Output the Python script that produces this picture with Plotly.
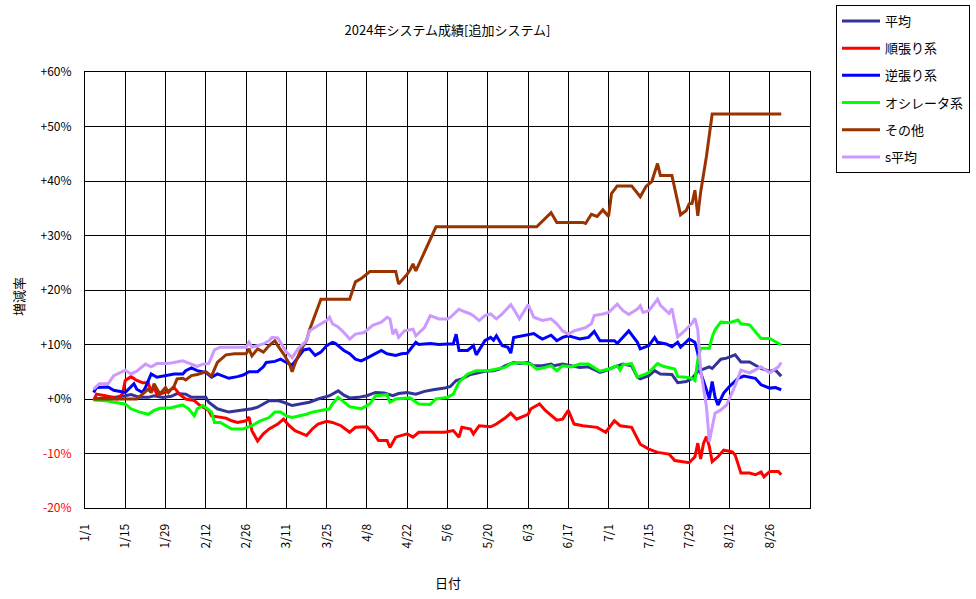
import pandas as pd
import plotly.graph_objects as go

YEAR = "2024"
TITLE = "2024年システム成績[追加システム]"
X_TITLE = "日付"
Y_TITLE = "増減率"

series_names = ["平均", "順張り系", "逆張り系", "オシレータ系", "その他", "s平均"]
series_colors = ["#333399", "#FF0000", "#0000FF", "#00FF00", "#993300", "#CC99FF"]

x_tick_labels = ["1/1", "1/15", "1/29", "2/12", "2/26", "3/11", "3/25", "4/8", "4/22",
                 "5/6", "5/20", "6/3", "6/17", "7/1", "7/15", "7/29", "8/12", "8/26"]
x_range = ["1/1", "9/9"]
y_tick_vals = [-20, -10, 0, 10, 20, 30, 40, 50, 60]
y_tick_labels = ["-20%", "-10%", "+0%", "+10%", "+20%", "+30%", "+40%", "+50%", "+60%"]

# 平均
avg_dates = ["1/4", "1/8", "1/11", "1/15", "1/17", "1/20", "1/23", "1/25", "1/28", "1/31",
             "2/2", "2/5", "2/7", "2/10", "2/12", "2/13", "2/15", "2/16", "2/20", "2/24",
             "2/28", "3/1", "3/5", "3/8", "3/10", "3/13", "3/16", "3/19", "3/22", "3/24",
             "3/26", "3/29", "3/31", "4/2", "4/5", "4/8", "4/11", "4/14", "4/17", "4/19",
             "4/22", "4/25", "4/28", "5/1", "5/5", "5/7", "5/9", "5/11", "5/14", "5/16",
             "5/19", "5/22", "5/24", "5/26", "5/29", "5/31", "6/3", "6/5", "6/8", "6/11",
             "6/12", "6/15", "6/18", "6/21", "6/24", "6/28", "6/30", "7/3", "7/6", "7/9",
             "7/11", "7/12", "7/15", "7/17", "7/19", "7/23", "7/25", "7/28", "7/30", "8/1",
             "8/2", "8/5", "8/6", "8/9", "8/11", "8/14", "8/16", "8/19", "8/23", "8/26",
             "8/28", "8/30"]
avg_vals = [0, 0.1, 0.3, 0.6, 0.8, 0.3, 0.3, 0.6, 0.3, 0.5,
            1.0, 0.9, 0.3, 0.3, 0.3, -0.6, -1.5, -1.8, -2.4, -2.1,
            -1.8, -1.5, -0.3, -0.3, -0.6, -1.2, -0.9, -0.6, 0, 0.3,
            0.6, 1.5, 0.7, 0.2, 0.3, 0.6, 1.2, 1.1, 0.6, 1.0,
            1.2, 0.9, 1.4, 1.7, 2.0, 2.3, 3.4, 3.7, 4.5, 4.7,
            5.1, 5.2, 5.5, 6.1, 6.7, 6.5, 6.7, 6.1, 6.1, 6.4,
            6.1, 6.4, 6.1, 5.8, 5.9, 4.9, 5.2, 5.9, 6.4, 6.1,
            4.0, 3.7, 4.3, 5.2, 4.6, 4.5, 3.0, 3.2, 3.8, 5.0,
            5.3, 5.9, 5.6, 7.3, 7.5, 8.1, 6.8, 6.8, 5.6, 5.1,
            5.3, 4.2]

# 順張り系
trend_dates = ["1/4", "1/5", "1/8", "1/11", "1/12", "1/14", "1/15", "1/17", "1/19", "1/21",
               "1/23", "1/24", "1/25", "1/26", "1/29", "1/31", "2/1", "2/3", "2/5", "2/8",
               "2/10", "2/13", "2/14", "2/19", "2/21", "2/23", "2/26", "2/27", "2/28", "3/1",
               "3/3", "3/5", "3/8", "3/10", "3/12", "3/14", "3/18", "3/20", "3/22", "3/25",
               "3/27", "3/30", "4/2", "4/4", "4/8", "4/10", "4/12", "4/15", "4/16", "4/18",
               "4/22", "4/24", "4/26", "4/30", "5/5", "5/8", "5/10", "5/11", "5/14", "5/15",
               "5/17", "5/21", "5/23", "5/26", "5/28", "5/30", "6/3", "6/4", "6/7", "6/9",
               "6/13", "6/15", "6/17", "6/19", "6/22", "6/27", "6/30", "7/3", "7/5", "7/9",
               "7/12", "7/15", "7/18", "7/22", "7/24", "7/29", "7/31", "8/1", "8/2", "8/3",
               "8/4", "8/5", "8/6", "8/8", "8/10", "8/13", "8/14", "8/16", "8/19", "8/21",
               "8/23", "8/24", "8/26", "8/29", "8/30"]
trend_vals = [-0.3, 0.9, 0.6, 0.3, 0, 0.9, 3.4, 4.1, 3.4, 3.0,
              3.0, 1.2, 2.2, 0.8, 1.2, 1.8, 2.1, 0.8, 0, -0.3,
              -1.2, -2.1, -3.1, -3.5, -4.0, -4.3, -4.0, -3.3, -5.8, -7.7,
              -6.4, -5.5, -4.6, -3.7, -4.9, -5.8, -6.7, -5.5, -4.6, -4.1,
              -4.3, -4.9, -6.1, -5.2, -5.1, -6.1, -7.6, -7.6, -8.9, -7.0,
              -6.4, -7.0, -6.1, -6.1, -6.1, -5.8, -7.0, -5.2, -5.5, -6.4,
              -4.9, -5.1, -4.6, -3.5, -2.6, -3.7, -2.8, -1.8, -0.9, -2.1,
              -3.9, -3.7, -2.1, -4.6, -4.9, -5.2, -6.1, -4.0, -4.9, -5.2,
              -8.3, -9.2, -9.8, -10.1, -11.3, -11.7, -10.6, -8.1, -11.0, -8.1,
              -6.9, -8.7, -11.5, -10.6, -9.4, -9.7, -10.3, -13.6, -13.6, -13.9,
              -13.4, -14.3, -13.3, -13.3, -13.9]

# 逆張り系
contra_dates = ["1/4", "1/5", "1/9", "1/11", "1/15", "1/16", "1/18", "1/19", "1/21", "1/22",
                "1/24", "1/26", "1/29", "2/1", "2/4", "2/5", "2/7", "2/9", "2/12", "2/14",
                "2/16", "2/20", "2/23", "2/25", "2/27", "3/1", "3/3", "3/4", "3/7", "3/9",
                "3/11", "3/13", "3/15", "3/17", "3/19", "3/21", "3/23", "3/25", "3/27", "3/28",
                "3/31", "4/2", "4/4", "4/6", "4/8", "4/10", "4/13", "4/15", "4/18", "4/20",
                "4/22", "4/25", "4/26", "4/30", "5/3", "5/6", "5/8", "5/9", "5/10", "5/13",
                "5/15", "5/16", "5/19", "5/21", "5/22", "5/23", "5/25", "5/27", "5/28", "5/29",
                "6/1", "6/4", "6/5", "6/7", "6/8", "6/11", "6/13", "6/15", "6/17", "6/19",
                "6/21", "6/24", "6/26", "6/28", "7/3", "7/4", "7/7", "7/8", "7/11", "7/12",
                "7/15", "7/17", "7/18", "7/21", "7/23", "7/25", "7/26", "7/29", "7/31", "8/1",
                "8/2", "8/4", "8/5", "8/6", "8/7", "8/8", "8/10", "8/12", "8/15", "8/17",
                "8/19", "8/21", "8/23", "8/26", "8/28", "8/30"]
contra_vals = [1.2, 2.1, 2.2, 1.6, 1.2, 1.8, 2.8, 1.8, 1.2, 2.1,
               4.6, 4.0, 4.3, 4.6, 4.6, 5.2, 5.7, 5.2, 4.9, 4.0,
               4.6, 3.8, 4.1, 4.4, 5.0, 5.0, 5.9, 6.7, 6.9, 7.3,
               6.7, 6.2, 7.6, 9.0, 9.2, 8.0, 8.6, 9.8, 10.4, 10.2,
               8.9, 8.3, 7.3, 7.0, 7.5, 8.0, 8.9, 8.3, 8.0, 8.3,
               8.4, 10.4, 10.0, 10.2, 10.0, 10.1, 10.1, 11.9, 8.9, 8.9,
               9.8, 8.1, 10.7, 11.3, 10.8, 11.6, 9.8, 9.5, 8.4, 11.3,
               11.6, 11.9, 12.0, 11.3, 11.0, 11.7, 10.7, 11.3, 11.6, 11.3,
               11.0, 11.3, 12.4, 10.7, 10.7, 10.2, 11.9, 12.5, 10.4, 9.2,
               9.8, 11.3, 10.4, 10.1, 9.6, 10.4, 9.5, 11.0, 10.4, 8.4,
               4.8, 1.7, 0.1, 3.2, 0.3, -1.1, 1.1, 2.3, 3.8, 4.2,
               4.0, 3.8, 2.6, 2.0, 2.1, 1.7]

# オシレータ系
osc_dates = ["1/4", "1/8", "1/11", "1/15", "1/17", "1/20", "1/23", "1/25", "1/27", "1/31",
             "2/3", "2/4", "2/6", "2/8", "2/9", "2/11", "2/14", "2/15", "2/17", "2/19",
             "2/21", "2/25", "2/28", "3/2", "3/5", "3/7", "3/9", "3/11", "3/13", "3/18",
             "3/20", "3/23", "3/26", "3/27", "3/29", "4/2", "4/6", "4/9", "4/11", "4/15",
             "4/16", "4/18", "4/23", "4/26", "4/30", "5/2", "5/6", "5/8", "5/10", "5/13",
             "5/16", "5/20", "5/23", "5/26", "5/28", "5/31", "6/4", "6/6", "6/9", "6/11",
             "6/13", "6/15", "6/18", "6/21", "6/24", "6/28", "7/1", "7/4", "7/5", "7/6",
             "7/9", "7/11", "7/14", "7/15", "7/18", "7/20", "7/24", "7/25", "7/28", "7/30",
             "7/31", "8/1", "8/2", "8/5", "8/6", "8/7", "8/9", "8/12", "8/15", "8/16",
             "8/19", "8/21", "8/23", "8/26", "8/28", "8/30"]
osc_vals = [-0.2, -0.3, -0.6, -0.9, -1.8, -2.4, -2.8, -2.1, -1.7, -1.6,
            -1.2, -1.1, -1.8, -3.1, -1.8, -1.2, -2.4, -4.3, -4.3, -4.9,
            -5.5, -5.5, -4.9, -4.0, -3.4, -2.4, -2.4, -3.1, -3.4, -2.8,
            -2.4, -2.1, -1.8, -0.9, 0.3, -1.4, -1.8, -0.9, 0.6, 0.8,
            -0.6, 0, 0.2, -0.9, -1.0, 0, 0.3, 0.9, 3.1, 4.6,
            5.2, 5.2, 5.5, 5.8, 6.5, 6.7, 6.4, 5.5, 5.8, 6.1,
            5.2, 6.1, 5.9, 6.4, 6.4, 5.1, 5.5, 6.1, 5.3, 6.3,
            6.5, 4.0, 4.6, 4.9, 6.5, 6.0, 5.5, 4.1, 4.0, 3.8,
            3.4, 7.2, 9.3, 9.3, 11.4, 12.7, 14.1, 14.0, 14.5, 13.8,
            13.6, 12.4, 11.1, 11.1, 10.5, 9.9]

# その他
other_dates = ["1/4", "1/19", "1/21", "1/23", "1/24", "1/25", "1/27", "1/29", "1/30", "2/1",
               "2/2", "2/4", "2/5", "2/7", "2/9", "2/12", "2/14", "2/16", "2/19", "2/22",
               "2/26", "2/27", "2/28", "3/1", "3/3", "3/5", "3/7", "3/8", "3/10", "3/12",
               "3/13", "3/14", "3/16", "3/18", "3/19", "3/21", "3/23", "4/2", "4/4", "4/6",
               "4/9", "4/18", "4/19", "4/22", "4/23", "4/24", "4/25", "5/2", "6/6", "6/11",
               "6/13", "6/22", "6/23", "6/25", "6/27", "6/29", "7/1", "7/2", "7/3", "7/4",
               "7/9", "7/12", "7/14", "7/16", "7/18", "7/19", "7/23", "7/26", "7/28", "7/29",
               "7/30", "7/31", "8/1", "8/2", "8/4", "8/6", "8/30"]
other_vals = [0, 0, 0.9, 1.8, 1.2, 2.8, 0.9, 2.1, 1.2, 2.4,
              3.7, 3.8, 3.5, 4.3, 4.5, 5.0, 4.2, 6.7, 8.1, 8.3,
              8.3, 9.2, 7.9, 9.2, 8.6, 9.8, 10.7, 9.8, 8.3, 6.5,
              5.0, 6.5, 9.0, 10.7, 12.6, 15.6, 18.3, 18.3, 21.5, 22.1,
              23.4, 23.4, 21.1, 22.9, 23.7, 24.8, 23.5, 31.6, 31.6, 34.2,
              32.4, 32.4, 32.2, 33.9, 33.5, 34.7, 33.5, 37.7, 38.3, 39.1,
              39.1, 37.1, 39.0, 39.9, 43.2, 41.0, 41.0, 33.8, 34.6, 35.8,
              35.9, 38.3, 33.6, 38.0, 44.5, 52.3, 52.3]

# s平均
savg_dates = ["1/4", "1/6", "1/9", "1/11", "1/15", "1/17", "1/19", "1/22", "1/24", "1/26",
              "1/29", "1/31", "2/4", "2/7", "2/9", "2/11", "2/13", "2/15", "2/17", "2/26",
              "2/27", "2/28", "3/3", "3/5", "3/6", "3/8", "3/11", "3/13", "3/15", "3/18",
              "3/19", "3/22", "3/25", "3/26", "3/27", "3/29", "3/31", "4/2", "4/4", "4/7",
              "4/10", "4/13", "4/15", "4/16", "4/17", "4/18", "4/19", "4/21", "4/24", "4/25",
              "4/28", "4/30", "5/3", "5/6", "5/7", "5/10", "5/11", "5/14", "5/15", "5/17",
              "5/19", "5/21", "5/23", "5/25", "5/28", "5/29", "5/31", "6/3", "6/5", "6/8",
              "6/11", "6/13", "6/15", "6/17", "6/19", "6/21", "6/23", "6/25", "6/26", "6/29",
              "7/1", "7/4", "7/6", "7/8", "7/11", "7/12", "7/13", "7/15", "7/17", "7/18",
              "7/19", "7/22", "7/23", "7/25", "7/27", "7/30", "7/31", "8/1", "8/2", "8/4",
              "8/5", "8/7", "8/9", "8/11", "8/14", "8/16", "8/19", "8/21", "8/23", "8/26",
              "8/28", "8/29", "8/30"]
savg_vals = [1.8, 2.8, 2.8, 4.3, 5.3, 4.6, 5.1, 6.4, 5.9, 6.5,
             6.5, 6.6, 7.0, 6.4, 6.0, 6.4, 6.5, 9.0, 9.5, 9.5,
             10.4, 9.5, 10.1, 10.7, 11.3, 11.2, 8.6, 7.6, 9.2, 10.7,
             12.5, 13.5, 14.4, 15.0, 13.8, 13.2, 12.2, 11.0, 11.9, 12.2,
             13.5, 14.1, 15.0, 14.7, 11.9, 12.8, 11.3, 12.5, 12.8, 11.6,
             13.1, 15.3, 14.7, 14.7, 15.0, 16.5, 16.2, 15.6, 15.3, 14.4,
             15.3, 15.6, 14.7, 15.6, 17.3, 16.5, 14.7, 17.3, 15.0, 14.4,
             14.7, 13.8, 12.5, 11.9, 12.5, 12.8, 13.1, 13.8, 15.3, 15.6,
             15.9, 17.4, 16.2, 15.5, 16.5, 17.1, 15.9, 16.2, 17.7, 18.3,
             17.2, 15.7, 16.6, 11.4, 12.3, 13.9, 14.8, 12.7, 5.3, -1.4,
             -7.8, -2.6, -2.0, -1.1, 2.5, 5.3, 4.8, 5.3, 5.9, 4.8,
             5.6, 5.9, 6.7]

series_dates = [avg_dates, trend_dates, contra_dates, osc_dates, other_dates, savg_dates]
series_vals = [avg_vals, trend_vals, contra_vals, osc_vals, other_vals, savg_vals]
for d, v in zip(series_dates, series_vals):
    assert len(d) == len(v), (len(d), len(v), d[0])


def to_dt(md_list):
    return pd.to_datetime([f"{YEAR}/{s}" for s in md_list], format="%Y/%m/%d")


FONT = "Noto Sans CJK JP"

fig = go.Figure()
for name, color, d, v in zip(series_names, series_colors, series_dates, series_vals):
    fig.add_trace(go.Scatter(
        x=to_dt(d), y=v, mode="lines", name=name, legendgroup=name,
        line=dict(color=color, width=3),
    ))

y_ticktext = [f'<span style="color:#FF0000">{t}</span>' if v < 0 else t
              for v, t in zip(y_tick_vals, y_tick_labels)]

fig.update_layout(
    width=976, height=599,
    margin=dict(l=85, r=166, t=72, b=91, autoexpand=False),
    paper_bgcolor="white", plot_bgcolor="white",
    font=dict(family=FONT, size=12, color="black"),
    title=dict(text=TITLE, x=0.5, xref="paper", xanchor="center",
               y=1 - 30 / 599, yref="container", yanchor="middle",
               font=dict(family=FONT, size=13, color="black")),
    showlegend=True,
    legend=dict(x=(836 - 85) / 725, xanchor="left", y=1 + (72 - 5) / 436,
                yanchor="top", bordercolor="black", borderwidth=1, bgcolor="white",
                font=dict(family=FONT, size=13, color="black"),
                tracegroupgap=7.3, traceorder="grouped", itemwidth=38),
    xaxis=dict(type="date", range=list(to_dt(x_range)),
               tickmode="array", tickvals=to_dt(x_tick_labels), ticktext=x_tick_labels,
               tickangle=-90, showgrid=True, gridcolor="black", gridwidth=1,
               showline=True, linecolor="black", linewidth=1, mirror=True,
               ticks="", zeroline=False, ticklabelstandoff=10,
               tickfont=dict(family=FONT, size=12, color="black")),
    yaxis=dict(range=[-20, 60], tickmode="array", tickvals=y_tick_vals, ticktext=y_ticktext,
               showgrid=True, gridcolor="black", gridwidth=1,
               showline=True, linecolor="black", linewidth=1, mirror=True,
               ticks="", zeroline=False, ticklabelstandoff=10,
               tickfont=dict(family=FONT, size=12, color="black")),
    annotations=[
        dict(text=X_TITLE, x=0.5, y=(508 - 582) / 436, xref="paper", yref="paper",
             xanchor="center", yanchor="middle", showarrow=False,
             font=dict(family=FONT, size=13, color="black")),
        dict(text=Y_TITLE, x=(18 - 85) / 725, y=(508 - 297) / 436, xref="paper", yref="paper",
             xanchor="center", yanchor="middle", showarrow=False, textangle=-90,
             font=dict(family=FONT, size=13, color="black")),
    ],
)

fig.write_html("out.html")
